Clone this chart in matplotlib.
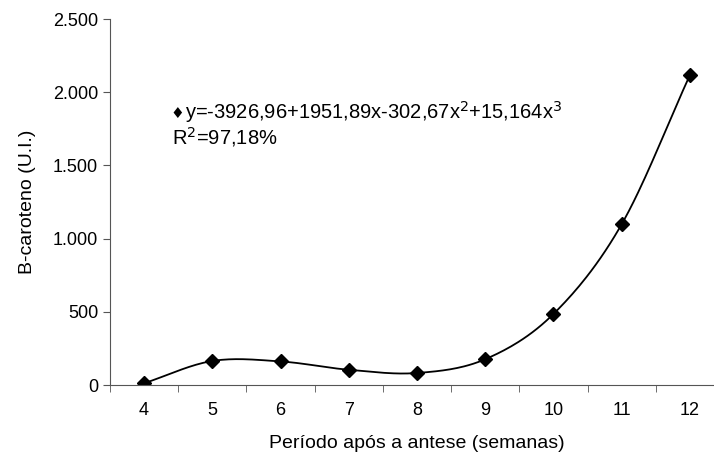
import numpy as np
import matplotlib
matplotlib.use("Agg")
import matplotlib.pyplot as plt
from matplotlib.ticker import FuncFormatter

# dados
semanas = [4, 5, 6, 7, 8, 9, 10, 11, 12]
caroteno = [12, 164, 161, 104, 82, 176, 485, 1098, 2117]
yticks = [0, 500, 1000, 1500, 2000, 2500]

plt.rcParams['font.family'] = ['Liberation Sans', 'DejaVu Sans']


# linha suavizada estilo Excel (Catmull-Rom entre os pontos)
def suavizar(x, y, n=30):
    x = np.asarray(x, float)
    y = np.asarray(y, float)
    px = np.concatenate([[2 * x[0] - x[1]], x, [2 * x[-1] - x[-2]]])
    py = np.concatenate([[2 * y[0] - y[1]], y, [2 * y[-1] - y[-2]]])
    xs, ys = [], []
    t = np.linspace(0, 1, n)
    for i in range(1, len(px) - 2):
        for p, out in ((px, xs), (py, ys)):
            p0, p1, p2, p3 = p[i - 1], p[i], p[i + 1], p[i + 2]
            b1 = p1 + (p2 - p0) / 6
            b2 = p2 - (p3 - p1) / 6
            out.extend((1 - t) ** 3 * p1 + 3 * (1 - t) ** 2 * t * b1
                       + 3 * (1 - t) * t ** 2 * b2 + t ** 3 * p2)
    return xs, ys


fig = plt.figure(figsize=(7.14, 4.63), dpi=100)
ax = fig.add_axes([110 / 714, 1 - 385 / 463, 614 / 714, 366 / 463])

xs, ys = suavizar(semanas, caroteno)
ax.plot(xs, ys, color='black', lw=1.3)
ax.plot(semanas, caroteno, 'D', color='black', ms=7)

ax.set_xlim(3.5, 12.5)
ax.set_ylim(0, 2500)
ax.set_yticks(yticks)
ax.yaxis.set_major_formatter(FuncFormatter(lambda v, p: f"{int(v):,}".replace(",", ".")))
ax.set_xticks(semanas)
ax.set_xticks(np.arange(3.5, 13, 1), minor=True)
ax.tick_params(axis='x', which='major', length=0, pad=12, labelsize=13)
ax.tick_params(axis='x', which='minor', length=5, direction='out', color='#555555')
ax.tick_params(axis='y', length=5, direction='out', labelsize=13, color='#555555')

for s in ['top', 'right']:
    ax.spines[s].set_visible(False)
for s in ['left', 'bottom']:
    ax.spines[s].set_color('#555555')

ax.set_xlabel("Período após a antese (semanas)", fontsize=14, labelpad=12)
ax.set_ylabel("B-caroteno (U.I.)", fontsize=14, labelpad=12)

fig.text(170 / 714, 1 - 114 / 463, "♦", fontsize=11, va='center',
         family=['DejaVu Sans'])
fig.text(185 / 714, 1 - 112 / 463,
         r"y=-3926,96+1951,89x-302,67x$^2$+15,164x$^3$", fontsize=14.5, va='center')
fig.text(172 / 714, 1 - 137 / 463, r"R$^2$=97,18%", fontsize=14.5, va='center')

fig.savefig("out.png", dpi=100)
